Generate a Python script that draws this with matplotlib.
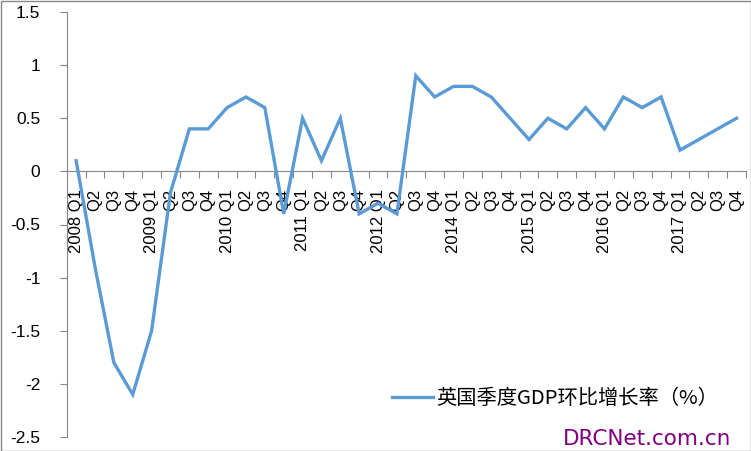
import matplotlib
matplotlib.use("Agg")
import matplotlib.pyplot as plt
from matplotlib.patches import Rectangle

# Data (quarterly GDP q/q growth, %)
quarter_labels = [
    "2008 Q1", "Q2", "Q3", "Q4",
    "2009 Q1", "Q2", "Q3", "Q4",
    "2010 Q1", "Q2", "Q3", "Q4",
    "2011 Q1", "Q2", "Q3", "Q4",
    "2012 Q1", "Q2", "Q3", "Q4",
    "2014 Q1", "Q2", "Q3", "Q4",
    "2015 Q1", "Q2", "Q3", "Q4",
    "2016 Q1", "Q2", "Q3", "Q4",
    "2017 Q1", "Q2", "Q3", "Q4",
]
growth = [
    0.1, -0.9, -1.8, -2.1,
    -1.5, -0.2, 0.4, 0.4,
    0.6, 0.7, 0.6, -0.4,
    0.5, 0.1, 0.5, -0.4,
    -0.3, -0.4, 0.9, 0.7,
    0.8, 0.8, 0.7, 0.5,
    0.3, 0.5, 0.4, 0.6,
    0.4, 0.7, 0.6, 0.7,
    0.2, 0.3, 0.4, 0.5,
]
series_name = "英国季度GDP环比增长率（%）"
y_ticks = [-2.5, -2, -1.5, -1, -0.5, 0, 0.5, 1, 1.5]
y_labels = ["-2.5", "-2", "-1.5", "-1", "-0.5", "0", "0.5", "1", "1.5"]

plt.rcParams['font.family'] = ['Liberation Sans', 'Noto Sans CJK SC', 'DejaVu Sans']

W, H = 751, 451
fig = plt.figure(figsize=(W / 100, H / 100), dpi=100)
ax = fig.add_axes([66.7 / W, 1 - 437 / H, (746 - 66.7) / W, (437 - 12) / H])

x = list(range(len(growth)))
ax.plot(x, growth, color='#5B9BD5', linewidth=2.4, label=series_name,
        solid_joinstyle='miter', zorder=3)

ax.set_xlim(-0.5, len(growth) - 0.5)
ax.set_ylim(-2.5, 1.5)

grey = '#868686'
for s in ['top', 'right']:
    ax.spines[s].set_visible(False)
ax.spines['left'].set_color(grey)
ax.spines['bottom'].set_color(grey)
ax.spines['bottom'].set_position(('data', 0))

ax.set_yticks(y_ticks)
ax.set_yticklabels(y_labels, fontsize=12.5, color='black')
ax.tick_params(axis='y', direction='out', length=5, color=grey, pad=14)

# tick marks between categories, labels at category centres
ax.set_xticks([i - 0.5 for i in range(len(growth) + 1)])
ax.set_xticklabels([])
ax.tick_params(axis='x', which='major', direction='out', length=5, color=grey)
ax.set_xticks(x, minor=True)
ax.set_xticklabels(quarter_labels, minor=True, rotation=90, fontsize=12, color='black')
ax.tick_params(axis='x', which='minor', length=0, pad=12.5)
for lab in ax.get_xticklabels(minor=True):
    lab.set_verticalalignment('top')

leg = ax.legend(loc='center left', bbox_to_anchor=(392 / W, 1 - 399 / H),
                bbox_transform=fig.transFigure, frameon=False,
                borderpad=0, borderaxespad=0, handlelength=2.0, handletextpad=0.2,
                prop={'family': ['Noto Sans CJK SC', 'DejaVu Sans'], 'size': 14.6})

fig.text(563 / W, 1 - 449 / H, "DRCNet.com.cn", color='#800080',
         fontsize=15.5, family='DejaVu Sans', ha='left', va='bottom')

# chart area border
fig.patches.append(Rectangle((0.5 / W, 0.5 / H), (W - 1) / W, (H - 1) / H,
                             transform=fig.transFigure, fill=False,
                             edgecolor=grey, linewidth=1))

fig.savefig("out.png", dpi=100)
